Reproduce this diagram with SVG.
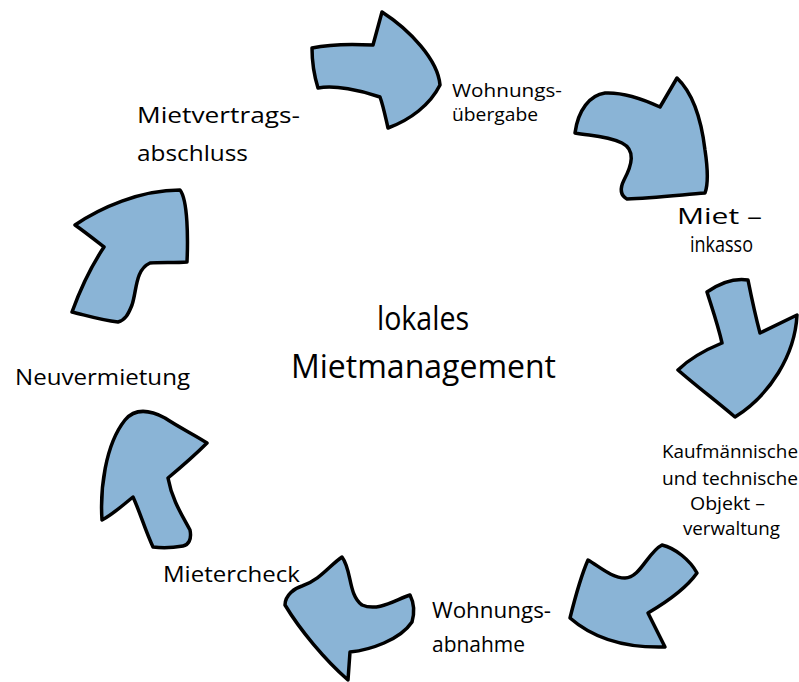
<svg xmlns="http://www.w3.org/2000/svg" width="799" height="682" viewBox="0 0 799 682">
<style>
.arrow{fill:#8AB4D6;stroke:#000;stroke-width:3.5;stroke-linejoin:round}
text{font-family:"Open Sans","Liberation Sans",sans-serif;fill:#000}
.s{font-size:18px}.m{font-size:21px}.l{font-size:32px}
</style>
<rect width="799" height="682" fill="#fff"/>
<g id="connectors">
<g id="arrow-top"><path class="arrow" d="M312,48 C330,44 355,44 373,45 L382,12 C410,30 438,60 440,85 C430,105 410,120 388,128 C385,115 383,105 380,97 C360,90 335,85 318,88 C314,75 312,60 312,48 Z"/></g>
<g id="arrow-upper-right"><path class="arrow" d="M575,133 C578,110 590,95 605,93 C625,92 645,100 660,107 L677,78 C695,95 702,125 705,150 C708,170 708,185 705,193 C680,195 650,198 627,199 C620,195 620,188 624,180 C632,165 636,150 622,143 C605,135 590,136 575,133 Z"/></g>
<g id="arrow-right"><path class="arrow" d="M707,292 C720,283 735,278 748,280 C752,300 756,318 760,333 L797,315 C795,355 770,395 735,417 C715,400 695,385 678,370 C690,358 705,350 722,343 C718,325 712,308 707,292 Z"/></g>
<g id="arrow-lower-right"><path class="arrow" d="M588,560 C600,567 612,578 625,578 C640,578 648,552 662,545 C675,548 690,560 697,573 C685,590 665,603 648,613 L665,647 C630,648 595,640 570,618 C575,598 580,578 588,560 Z"/></g>
<g id="arrow-bottom"><path class="arrow" d="M342,557 C352,570 348,595 362,605 C378,612 395,600 410,595 C415,605 414,615 412,622 C400,640 370,650 350,652 L348,680 C325,660 300,630 285,605 C285,595 295,588 302,586 C320,580 330,565 342,557 Z"/></g>
<g id="arrow-lower-left"><path class="arrow" d="M102,520 C100,490 105,445 125,420 C135,408 150,410 165,418 C180,428 195,435 207,443 C195,455 180,468 168,478 C172,500 182,515 190,530 C192,540 188,545 183,546 C172,548 160,548 153,547 C145,530 140,512 133,497 C123,505 112,515 102,520 Z"/></g>
<g id="arrow-upper-left"><path class="arrow" d="M75,225 C100,208 140,190 180,190 C188,200 188,240 187,262 C175,263 160,262 150,263 C135,270 137,290 132,305 C128,315 125,320 118,322 C100,320 85,315 72,312 C80,290 92,265 104,247 C95,240 85,232 75,225 Z"/></g>
</g>
<g id="center"><text class="l" x="377" y="330" textLength="92" lengthAdjust="spacingAndGlyphs">lokales</text><text class="l" x="291" y="378" textLength="265" lengthAdjust="spacingAndGlyphs">Mietmanagement</text></g>
<g id="wohnungsuebergabe"><text class="s" x="452" y="97" textLength="110" lengthAdjust="spacingAndGlyphs">Wohnungs-</text><text class="s" x="452" y="121" textLength="86" lengthAdjust="spacingAndGlyphs">übergabe</text></g>
<g id="mietinkasso"><text class="m" x="677" y="224" textLength="85" lengthAdjust="spacingAndGlyphs">Miet –</text><text class="m" x="690" y="252" textLength="63" lengthAdjust="spacingAndGlyphs">inkasso</text></g>
<g id="objektverwaltung"><text class="s" x="662" y="458" textLength="136" lengthAdjust="spacingAndGlyphs">Kaufmännische</text><text class="s" x="662" y="485" textLength="136" lengthAdjust="spacingAndGlyphs">und technische</text><text class="s" x="690" y="510" textLength="75" lengthAdjust="spacingAndGlyphs">Objekt –</text><text class="s" x="683" y="535" textLength="97" lengthAdjust="spacingAndGlyphs">verwaltung</text></g>
<g id="wohnungsabnahme"><text class="m" x="432" y="618" textLength="119" lengthAdjust="spacingAndGlyphs">Wohnungs-</text><text class="m" x="432" y="652" textLength="93" lengthAdjust="spacingAndGlyphs">abnahme</text></g>
<g id="mietercheck"><text class="m" x="163" y="582" textLength="137" lengthAdjust="spacingAndGlyphs">Mietercheck</text></g>
<g id="neuvermietung"><text class="m" x="15" y="385" textLength="175" lengthAdjust="spacingAndGlyphs">Neuvermietung</text></g>
<g id="mietvertragsabschluss"><text class="m" x="137" y="123" textLength="163" lengthAdjust="spacingAndGlyphs">Mietvertrags-</text><text class="m" x="137" y="161" textLength="111" lengthAdjust="spacingAndGlyphs">abschluss</text></g>
</svg>
